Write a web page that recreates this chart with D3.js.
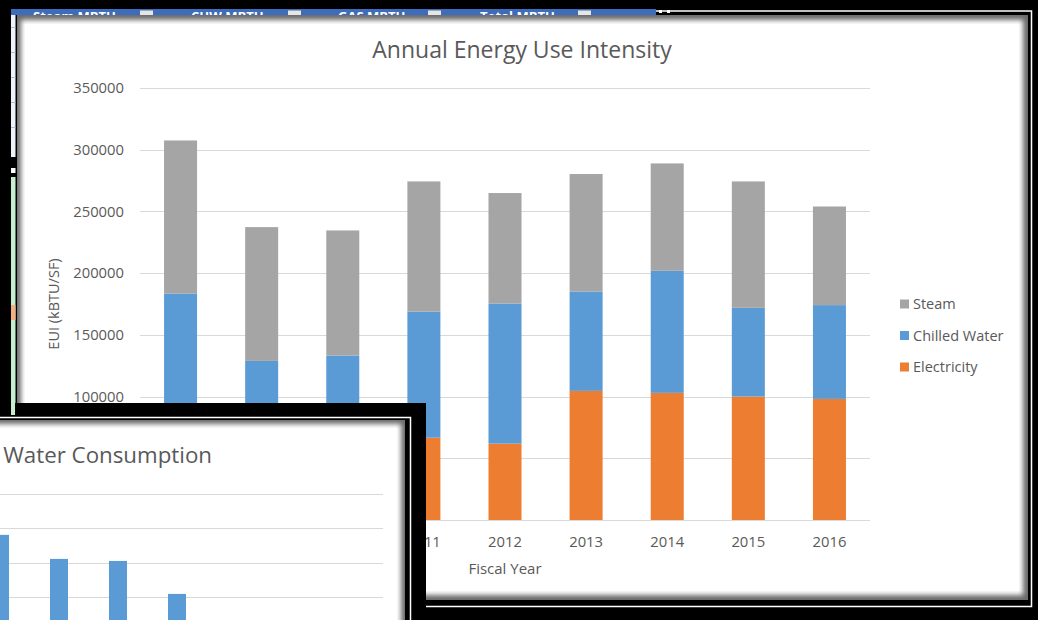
<!DOCTYPE html>
<html>
<head>
<meta charset="utf-8">
<script src="https://cdn.jsdelivr.net/npm/d3@7"></script>
<style>
  html, body { margin: 0; padding: 0; background: #000; }
  svg { display: block; }
  text { font-family: "Open Sans", Lato, sans-serif; }
</style>
</head>
<body>
<svg id="chart" width="1038" height="620"></svg>
<script>
// ---------- data ----------
const years = ["2008", "2009", "2010", "2011", "2012", "2013", "2014", "2015", "2016"];
const electricity = [65000, 58000, 60000, 66700, 61900, 104600, 103000, 100000, 98100];
const chilledWater = [118500, 70900, 73200, 102200, 113500, 80500, 98900, 71900, 76000];
const steam = [124000, 108400, 101400, 105400, 89500, 95200, 87000, 102400, 79900];
const seriesNames = ["Electricity", "Chilled Water", "Steam"];
const legendOrder = ["Steam", "Chilled Water", "Electricity"];
const yTicks = [0, 50000, 100000, 150000, 200000, 250000, 300000, 350000];
// tick labels that are visible (the lower ones are hidden behind the overlapping window)
const yTickLabels = [100000, 150000, 200000, 250000, 300000, 350000];

const headerLabels = ["Steam MBTU", "CHW MBTU", "GAS MBTU", "Total MBTU"];

const waterYears = ["2010", "2011", "2012", "2013", "2014", "2015", "2016"];
const waterValues = [4.81, 4.11, 4.05, 3.09, 2.0, 1.8, 1.9];
const waterTicks = [0, 1, 2, 3, 4, 5, 6];

// ---------- setup ----------
const svg = d3.select("#chart");
const W = 1038, H = 620;
const colors = { "Steam": "#a5a5a5", "Chilled Water": "#5b9bd5", "Electricity": "#ed7d31" };
const textColor = "#595959";
const gridColor = "#d9d9d9";

const defs = svg.append("defs");
defs.append("filter").attr("id", "soft").attr("x", "-5%").attr("y", "-5%").attr("width", "110%").attr("height", "110%")
  .append("feGaussianBlur").attr("stdDeviation", 2.6);

svg.append("rect").attr("width", W).attr("height", H).attr("fill", "#000");

// ---------- main window frame ----------
svg.append("path").attr("d", "M14,11 H1031.5 V606.5 H14")
  .attr("fill", "none").attr("stroke", "#fff").attr("stroke-width", 1.5);

// ---------- background spreadsheet pieces ----------
const hdrClip = defs.append("clipPath").attr("id", "hdrClip");
hdrClip.append("rect").attr("x", 11).attr("y", 9).attr("width", 645).attr("height", 6);
const hdr = svg.append("g").attr("clip-path", "url(#hdrClip)");
hdr.append("rect").attr("x", 11).attr("y", 9).attr("width", 645).attr("height", 6).attr("fill", "#3d6cbd");
const hdrX = [33, 191, 338, 480];
const btnX = [140, 288, 428, 578];
hdr.selectAll("text.h").data(headerLabels).join("text").attr("class", "h")
  .attr("x", (d, i) => hdrX[i]).attr("y", 20.5)
  .attr("fill", "#fff").attr("font-size", 13).attr("font-weight", "bold").text(d => d);
hdr.selectAll("rect.b").data(btnX).join("rect").attr("class", "b")
  .attr("x", d => d).attr("y", 10.5).attr("width", 13).attr("height", 6).attr("fill", "#e6e6e6");
svg.append("rect").attr("x", 659).attr("y", 10).attr("width", 3).attr("height", 3).attr("fill", "#fff");
svg.append("rect").attr("x", 667).attr("y", 10).attr("width", 3).attr("height", 3).attr("fill", "#fff");

// left column of the spreadsheet
svg.append("rect").attr("x", 11).attr("y", 15).attr("width", 4.5).attr("height", 142).attr("fill", "#eef3fa");
[27, 52, 77, 102, 127].forEach(v => svg.append("rect").attr("x", 11).attr("y", v).attr("width", 4.5).attr("height", 1).attr("fill", "#a9c0e0"));
svg.append("rect").attr("x", 11).attr("y", 168).attr("width", 4.5).attr("height", 5).attr("fill", "#fff");
svg.append("rect").attr("x", 11).attr("y", 177).attr("width", 4.5).attr("height", 242).attr("fill", "#c6efce");
svg.append("rect").attr("x", 11).attr("y", 305).attr("width", 4.5).attr("height", 15).attr("fill", "#f4b084");

// ---------- main panel ----------
const mainClip = defs.append("clipPath").attr("id", "mainClip");
mainClip.append("rect").attr("x", 17).attr("y", 15).attr("width", 1011).attr("height", 585);
const panel = svg.append("g").attr("clip-path", "url(#mainClip)");
panel.append("rect").attr("x", 17).attr("y", 15).attr("width", 1011).attr("height", 585).attr("fill", "#6a6a6a");
panel.append("rect").attr("x", 21).attr("y", 20).attr("width", 1002).attr("height", 575)
  .attr("fill", "#fff").attr("filter", "url(#soft)");
panel.append("rect").attr("x", 25).attr("y", 24).attr("width", 994).attr("height", 567).attr("fill", "#fff");

// ---------- main chart ----------
const x = d3.scaleBand().domain(years).range([140, 870]).paddingInner(0.593).paddingOuter(0.2965);
const y = d3.scaleLinear().domain([0, 350000]).range([520, 88]);

const g = panel.append("g");
g.selectAll("line.grid").data(yTicks).join("line").attr("class", "grid")
  .attr("x1", 140).attr("x2", 870)
  .attr("y1", d => Math.round(y(d)) + 0.5).attr("y2", d => Math.round(y(d)) + 0.5)
  .attr("stroke", gridColor).attr("stroke-width", 1);

const table = years.map((yr, i) => ({
  year: yr, "Electricity": electricity[i], "Chilled Water": chilledWater[i], "Steam": steam[i]
}));
const stacked = d3.stack().keys(seriesNames)(table);
g.selectAll("g.series").data(stacked).join("g").attr("class", "series")
  .attr("fill", d => colors[d.key])
  .selectAll("rect").data(d => d).join("rect")
  .attr("x", d => x(d.data.year))
  .attr("width", x.bandwidth())
  .attr("y", d => y(d[1]))
  .attr("height", d => y(d[0]) - y(d[1]));

// y axis labels
const yAxis = d3.axisLeft(y).tickValues(yTickLabels).tickSize(0).tickPadding(0).tickFormat(d3.format("d"));
const ya = g.append("g").attr("transform", "translate(124,0)").call(yAxis);
ya.select(".domain").remove();
ya.selectAll("text").attr("fill", textColor).attr("font-size", 14.8).attr("font-family", "Open Sans");

// x axis labels
const xAxis = d3.axisBottom(x).tickSize(0).tickPadding(0);
const xa = g.append("g").attr("transform", "translate(0,542)").call(xAxis);
xa.select(".domain").remove();
xa.selectAll("text").attr("fill", textColor).attr("font-size", 14.8).attr("font-family", "Open Sans")
  .attr("y", 0).attr("dy", "0.35em");

// titles
g.append("text").attr("x", 522).attr("y", 58).attr("text-anchor", "middle")
  .attr("fill", textColor).attr("font-size", 23).text("Annual Energy Use Intensity");
g.append("text").attr("x", 505).attr("y", 574).attr("text-anchor", "middle")
  .attr("fill", textColor).attr("font-size", 15).text("Fiscal Year");
g.append("text").attr("transform", "translate(59,304) rotate(-90)").attr("text-anchor", "middle")
  .attr("fill", textColor).attr("font-size", 14.5).text("EUI (kBTU/SF)");

// legend
const legY = { "Steam": 304, "Chilled Water": 335.5, "Electricity": 367 };
const leg = g.selectAll("g.leg").data(legendOrder).join("g").attr("class", "leg")
  .attr("transform", d => `translate(900,${legY[d]})`);
leg.append("rect").attr("x", 0).attr("y", -4.5).attr("width", 9).attr("height", 9).attr("fill", d => colors[d]);
leg.append("text").attr("x", 13).attr("y", 0).attr("dy", "0.35em").attr("fill", textColor)
  .attr("font-size", 14.5).text(d => d);

// ---------- overlapping water window (bottom-left) ----------
svg.append("rect").attr("x", -10).attr("y", 403).attr("width", 436).attr("height", 240).attr("fill", "#000");
svg.append("rect").attr("x", 11).attr("y", 403).attr("width", 4).attr("height", 12).attr("fill", "#c6efce");
svg.append("path").attr("d", "M-10,417.5 H410.5 V640")
  .attr("fill", "none").attr("stroke", "#fff").attr("stroke-width", 1.5);
const wClip = defs.append("clipPath").attr("id", "wClip");
wClip.append("rect").attr("x", -10).attr("y", 420).attr("width", 415).attr("height", 220);
const wp = svg.append("g").attr("clip-path", "url(#wClip)");
wp.append("rect").attr("x", -10).attr("y", 420).attr("width", 415).attr("height", 220).attr("fill", "#6a6a6a");
wp.append("rect").attr("x", -10).attr("y", 424).attr("width", 411).attr("height", 230)
  .attr("fill", "#fff").attr("filter", "url(#soft)");
wp.append("rect").attr("x", -10).attr("y", 428).attr("width", 407).attr("height", 230).attr("fill", "#fff");

const wx = d3.scaleBand().domain(waterYears).range([-29.5, 383.5]).paddingInner(0.695).paddingOuter(0.3475);
const wy = d3.scaleLinear().domain([0, 6]).range([700, 494]);
wp.selectAll("line.wgrid").data(waterTicks).join("line").attr("class", "wgrid")
  .attr("x1", -10).attr("x2", 383)
  .attr("y1", d => Math.round(wy(d)) + 0.5).attr("y2", d => Math.round(wy(d)) + 0.5)
  .attr("stroke", gridColor).attr("stroke-width", 1);
wp.selectAll("rect.wbar").data(waterValues).join("rect").attr("class", "wbar")
  .attr("x", (d, i) => wx(waterYears[i])).attr("width", wx.bandwidth())
  .attr("y", d => wy(d)).attr("height", d => wy(0) - wy(d))
  .attr("fill", colors["Chilled Water"]);
wp.append("text").attr("x", 212).attr("y", 463).attr("text-anchor", "end")
  .attr("fill", textColor).attr("font-size", 22.3).text("Water Consumption");
</script>
</body>
</html>
